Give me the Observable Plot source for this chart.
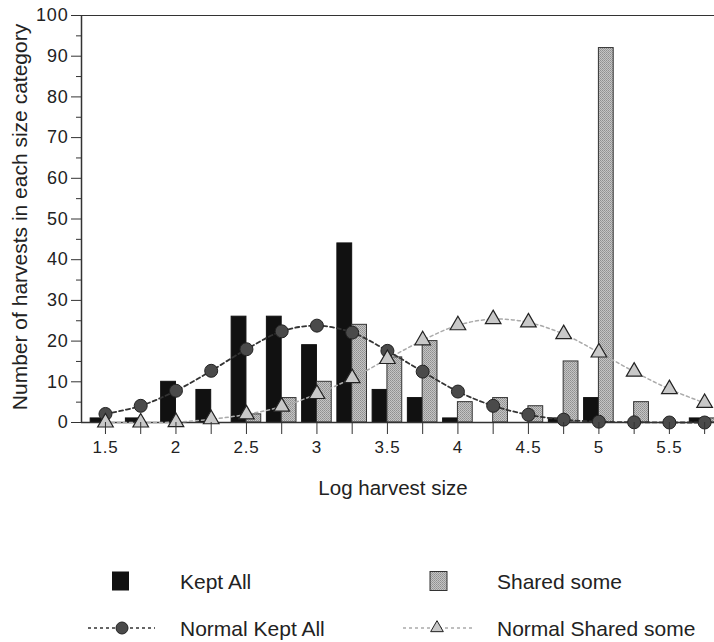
<!DOCTYPE html>
<html>
<head>
<meta charset="utf-8">
<script src="https://cdn.jsdelivr.net/npm/d3@7"></script>
<script src="https://cdn.jsdelivr.net/npm/@observablehq/plot@0.6"></script>
<style>
  html, body { margin: 0; padding: 0; background: #fff; }
  body { width: 714px; height: 642px; overflow: hidden; font-family: "Liberation Sans", Arial, sans-serif; }
  #chart svg { display: block; }
</style>
</head>
<body>
<div id="chart"></div>
<script>
// Bin centres (log harvest size)
const bins = [1.5, 1.75, 2, 2.25, 2.5, 2.75, 3, 3.25, 3.5, 3.75, 4, 4.25, 4.5, 4.75, 5, 5.25, 5.5, 5.75];
// Observed counts
const keptAll    = [1, 1, 10, 8, 26, 26, 19, 44, 8, 6, 1, 0, 0, 1, 6, 0, 0, 1];
const sharedSome = [0, 0, 0, 0, 2, 6, 10, 24, 16, 20, 5, 6, 4, 15, 92, 5, 0, 1];
// Fitted normal curves
const normalKeptAll    = [2.1, 4.1, 7.8, 12.7, 18, 22.4, 23.8, 22.1, 17.6, 12.5, 7.6, 4.1, 1.9, 0.7, 0.2, 0.05, 0, 0];
const normalSharedSome = [0, 0, 0.1, 0.8, 2, 3.9, 7, 10.9, 15.6, 20.2, 23.9, 25.4, 24.6, 21.7, 17.2, 12.5, 8.2, 4.8];
const yTicks = [0, 10, 20, 30, 40, 50, 60, 70, 80, 90, 100];
const xLabels = [1.5, 2, 2.5, 3, 3.5, 4, 4.5, 5, 5.5];

const barW = 0.105; // bar width in data units
const kept = bins.map((b, i) => ({bin: b, v: keptAll[i]}));
const shared = bins.map((b, i) => ({bin: b, v: sharedSome[i]}));
const nKept = bins.map((b, i) => ({bin: b, v: normalKeptAll[i]}));
const nShared = bins.map((b, i) => ({bin: b, v: normalSharedSome[i]}));

const xDomain = [1.33, 5.82];
const FONT = "'Liberation Sans', Arial, sans-serif";

const plot = Plot.plot({
  width: 714,
  height: 520,
  marginTop: 15,
  marginBottom: 98,
  marginLeft: 81,
  marginRight: 0,
  style: {fontFamily: FONT, color: "#222", background: "#fff"},
  x: {domain: xDomain},
  y: {domain: [0, 100]},
  marks: [
    Plot.rect(kept, {x1: d => d.bin - barW, x2: d => d.bin, y1: 0, y2: "v", fill: "#111", stroke: "#111", strokeWidth: 1}),
    Plot.rect(shared, {x1: d => d.bin, x2: d => d.bin + barW, y1: 0, y2: "v", fill: "url(#stipple)", stroke: "#333", strokeWidth: 1}),
    Plot.ruleY([0], {stroke: "#333", strokeWidth: 1.5}),
    Plot.ruleY([100], {stroke: "#333", strokeWidth: 1.2}),
    Plot.ruleX([xDomain[0]], {y1: 0, y2: 100, stroke: "#333", strokeWidth: 1.5}),
    Plot.line(nShared, {x: "bin", y: "v", curve: "catmull-rom", stroke: "#aaa", strokeWidth: 1.5, strokeDasharray: "3,3"}),
    Plot.line(nKept, {x: "bin", y: "v", curve: "catmull-rom", stroke: "#333", strokeWidth: 1.8, strokeDasharray: "4,3"}),
    Plot.dot(nKept, {x: "bin", y: "v", r: 6.5, fill: "#4a4a4a", stroke: "#222", strokeWidth: 1}),
    Plot.dot(nShared, {x: "bin", y: "v", symbol: "triangle", r: 5.8, fill: "#c8c8c8", stroke: "#222", strokeWidth: 1.2}),
    Plot.axisY({ticks: yTicks, tickSize: 10, tickPadding: 3, fontSize: 18, label: null, stroke: "#333"}),
    Plot.axisY({ticks: d3.range(5, 100, 10), tickSize: 5, tickFormat: () => "", label: null, stroke: "#333"}),
    Plot.axisX({ticks: bins, tickSize: 12, tickPadding: 6, fontSize: 17, label: null, stroke: "#333",
      tickFormat: d => xLabels.includes(d) ? String(d) : ""})
  ]
});
document.getElementById("chart").appendChild(plot);

const svg = d3.select(plot);
// stipple texture for the grey bars
const pat = svg.insert("defs", ":first-child").append("pattern")
  .attr("id", "stipple").attr("width", 2).attr("height", 2).attr("patternUnits", "userSpaceOnUse");
pat.append("rect").attr("width", 2).attr("height", 2).attr("fill", "#c4c4c4");
pat.append("rect").attr("width", 1).attr("height", 1).attr("fill", "#8f8f8f");
pat.append("rect").attr("x", 1).attr("y", 1).attr("width", 1).attr("height", 1).attr("fill", "#9c9c9c");

svg.selectAll("[aria-label='x-axis tick label'] text, [aria-label='y-axis tick label'] text").style("letter-spacing", "0.8px");

svg.append("text")
  .attr("transform", "translate(27,217) rotate(-90)")
  .attr("text-anchor", "middle")
  .attr("font-size", 21)
  .attr("font-family", FONT)
  .attr("fill", "#222")
  .text("Number of harvests in each size category");
svg.append("text")
  .attr("x", 393).attr("y", 495)
  .attr("text-anchor", "middle")
  .attr("font-size", 20.5)
  .attr("font-family", FONT)
  .attr("fill", "#222")
  .text("Log harvest size");

// Legend
const leg = d3.select("#chart").append("svg").attr("width", 714).attr("height", 122)
  .style("font-family", FONT);
const row1 = 61, row2 = 108; // centres relative to legend svg (page y 581, 628)
const dy = 7.5;
leg.append("rect").attr("x", 112).attr("y", row1 - 9.5).attr("width", 17).attr("height", 19).attr("fill", "#111");
leg.append("text").attr("x", 180).attr("y", row1 + dy).attr("font-size", 21).attr("fill", "#222").text("Kept All");
leg.append("rect").attr("x", 430).attr("y", row1 - 9.5).attr("width", 17).attr("height", 19).attr("fill", "url(#stipple)").attr("stroke", "#333");
leg.append("text").attr("x", 497).attr("y", row1 + dy).attr("font-size", 21).attr("fill", "#222").text("Shared some");
leg.append("line").attr("x1", 88).attr("x2", 155).attr("y1", row2).attr("y2", row2).attr("stroke", "#333").attr("stroke-width", 1.5).attr("stroke-dasharray", "3,3");
leg.append("circle").attr("cx", 122).attr("cy", row2).attr("r", 6).attr("fill", "#4a4a4a").attr("stroke", "#222");
leg.append("text").attr("x", 180).attr("y", row2 + dy).attr("font-size", 21).attr("fill", "#222").text("Normal Kept All");
leg.append("line").attr("x1", 403).attr("x2", 473).attr("y1", row2).attr("y2", row2).attr("stroke", "#aaa").attr("stroke-width", 1.5).attr("stroke-dasharray", "3,3");
leg.append("path").attr("d", d3.symbol(d3.symbolTriangle, 70)()).attr("transform", `translate(437,${row2})`).attr("fill", "#c8c8c8").attr("stroke", "#222");
leg.append("text").attr("x", 497).attr("y", row2 + dy).attr("font-size", 21).attr("fill", "#222").text("Normal Shared some");
</script>
</body>
</html>
